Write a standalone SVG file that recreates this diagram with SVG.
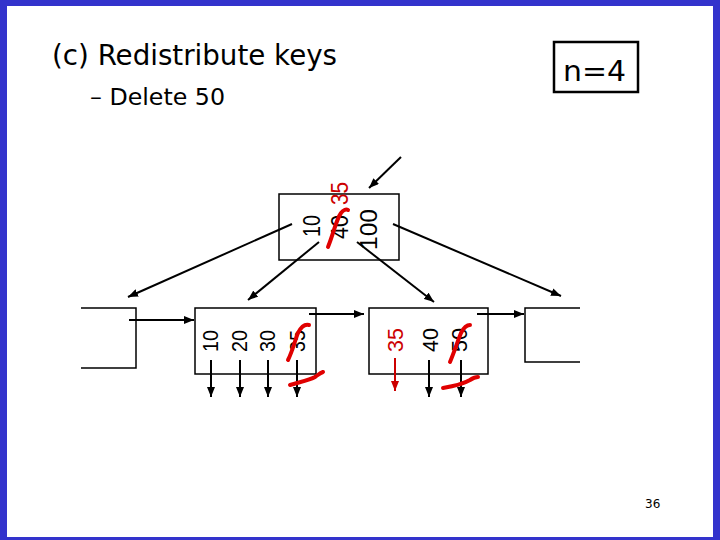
<svg xmlns="http://www.w3.org/2000/svg" width="720" height="540" viewBox="0 0 720 540">
<style>
.box{fill:none;stroke:#000;stroke-width:1.5}
.ln{fill:none;stroke:#000;stroke-width:2}
.rd{fill:none;stroke:#E00000;stroke-width:4;stroke-linecap:round}
.k{font-family:"Liberation Sans",Arial,sans-serif;fill:#000}
.kr{font-family:"Liberation Sans",Arial,sans-serif;fill:#CC0000}
.t{font-family:"DejaVu Sans",Tahoma,sans-serif;fill:#000}
</style>
<defs>
<marker id="ah" markerUnits="userSpaceOnUse" markerWidth="10" markerHeight="8" refX="10" refY="4" orient="auto">
<path d="M0,0 L10,4 L0,8 z" fill="#000"/>
</marker>
<marker id="ahr" markerUnits="userSpaceOnUse" markerWidth="10" markerHeight="8" refX="10" refY="4" orient="auto">
<path d="M0,0 L10,4 L0,8 z" fill="#CC0000"/>
</marker>
</defs>
<rect x="0" y="0" width="720" height="540" fill="#3333CC"/>
<rect x="7" y="6" width="706" height="531" fill="#fff"/>

<g id="title">
<text class="t" x="52" y="65" font-size="29" textLength="285" lengthAdjust="spacingAndGlyphs">(c) Redistribute keys</text>
<text class="t" x="90" y="105" font-size="23" textLength="135" lengthAdjust="spacingAndGlyphs">– Delete 50</text>
</g>
<g id="n4">
<rect x="554" y="42" width="84" height="50" fill="none" stroke="#000" stroke-width="2.5"/>
<text class="t" x="563" y="81" font-size="28" textLength="63" lengthAdjust="spacingAndGlyphs">n=4</text>
</g>
<text id="page" x="645" y="508" font-family="'DejaVu Sans',Tahoma,sans-serif" font-size="12">36</text>

<g id="root">
<rect class="box" x="279" y="194" width="120" height="66"/>
<text class="k" font-size="24" textLength="22" lengthAdjust="spacingAndGlyphs" transform="translate(320,237) rotate(-90)">10</text>
<text class="k" font-size="24" textLength="24" lengthAdjust="spacingAndGlyphs" transform="translate(348,239) rotate(-90)">40</text>
<text class="k" font-size="24" textLength="41" lengthAdjust="spacingAndGlyphs" transform="translate(377,250) rotate(-90)">100</text>
<text class="kr" font-size="24" textLength="23" lengthAdjust="spacingAndGlyphs" transform="translate(348,205) rotate(-90)">35</text>
<path class="rd" d="M328 247 C334 232 336 220 341 213 C343 210 346 209 348 210"/>
</g>

<g id="leafL">
<path class="box" d="M81 308 H136 V368 H81"/>
</g>

<g id="leaf2">
<rect class="box" x="195" y="308" width="121" height="66"/>
<text class="k" font-size="22" textLength="22" lengthAdjust="spacingAndGlyphs" transform="translate(218,352) rotate(-90)">10</text>
<text class="k" font-size="22" textLength="22" lengthAdjust="spacingAndGlyphs" transform="translate(247,352) rotate(-90)">20</text>
<text class="k" font-size="22" textLength="22" lengthAdjust="spacingAndGlyphs" transform="translate(275,352) rotate(-90)">30</text>
<text class="k" font-size="22" textLength="22" lengthAdjust="spacingAndGlyphs" transform="translate(305,352) rotate(-90)">35</text>
</g>

<g id="leaf3">
<rect class="box" x="369" y="308" width="119" height="66"/>
<text class="kr" font-size="22" textLength="24" lengthAdjust="spacingAndGlyphs" transform="translate(403,352) rotate(-90)">35</text>
<text class="k" font-size="22" textLength="24" lengthAdjust="spacingAndGlyphs" transform="translate(438,352) rotate(-90)">40</text>
<text class="k" font-size="22" textLength="24" lengthAdjust="spacingAndGlyphs" transform="translate(467,352) rotate(-90)">50</text>
</g>

<g id="leafR">
<path class="box" d="M580 308 H525 V362 H580"/>
</g>

<g id="connectors">
<line class="ln" x1="401" y1="157" x2="369" y2="188" marker-end="url(#ah)"/>
<line class="ln" x1="292" y1="224" x2="128" y2="297" marker-end="url(#ah)"/>
<line class="ln" x1="319" y1="242" x2="248" y2="300" marker-end="url(#ah)"/>
<line class="ln" x1="357" y1="242" x2="434" y2="302" marker-end="url(#ah)"/>
<line class="ln" x1="393" y1="224" x2="561" y2="296" marker-end="url(#ah)"/>
<line class="ln" x1="129" y1="320" x2="194" y2="320" marker-end="url(#ah)"/>
<line class="ln" x1="309" y1="314" x2="364" y2="314" marker-end="url(#ah)"/>
<line class="ln" x1="477" y1="314" x2="524" y2="314" marker-end="url(#ah)"/>
<line class="ln" x1="211" y1="360" x2="211" y2="397" marker-end="url(#ah)"/>
<line class="ln" x1="240" y1="360" x2="240" y2="397" marker-end="url(#ah)"/>
<line class="ln" x1="268" y1="360" x2="268" y2="397" marker-end="url(#ah)"/>
<line class="ln" x1="297" y1="360" x2="297" y2="397" marker-end="url(#ah)"/>
<line x1="395" y1="358" x2="395" y2="391" stroke="#CC0000" stroke-width="2" marker-end="url(#ahr)"/>
<line class="ln" x1="429" y1="360" x2="429" y2="397" marker-end="url(#ah)"/>
<line class="ln" x1="461" y1="360" x2="461" y2="397" marker-end="url(#ah)"/>
</g>

<g id="strikes">
<path class="rd" d="M288 360 C293 350 295 340 298 333 C301 327 305 324 309 325"/>
<path class="rd" d="M290 385 C300 382 310 380 315 377 C318 375 320 373 323 372"/>
<path class="rd" d="M450 362 C455 350 458 340 461 333 C464 327 467 325 470 325"/>
<path class="rd" d="M443 388 C455 386 465 383 470 380 C473 378 476 377 478 377"/>
</g>
</svg>
